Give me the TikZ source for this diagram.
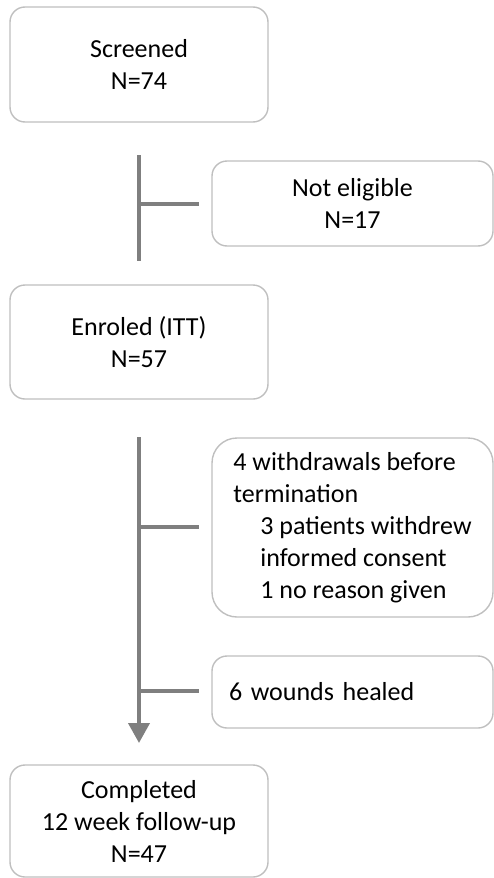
\documentclass[tikz,border=0pt]{standalone}
\usepackage{fontspec}
\setmainfont{Carlito}
\usetikzlibrary{arrows.meta}
\definecolor{trazo}{RGB}{127,127,127}
\definecolor{borde}{RGB}{191,191,191}
\begin{document}
\begin{tikzpicture}[x=1pt,y=-1pt,
  caja/.style={draw=borde,line width=1.4pt,rounded corners=15pt,inner sep=0pt,
    font=\fontsize{26}{32}\selectfont,align=center},
  lado/.style={caja,minimum width=281pt,align=left},
  linea/.style={trazo,line width=4pt}]
\useasboundingbox (0,0) rectangle (494,878);
% cajas del flujo principal
\node[caja,minimum width=258pt,minimum height=115pt] (screened) at (139,64.5) {Screened\\N=74};
\node[caja,minimum width=258pt,minimum height=114pt] (enroled) at (139,342) {Enroled (ITT)\\N=57};
\node[caja,minimum width=258pt,minimum height=112pt] (completed) at (139,821) {Completed\\12 week follow-up\\N=47};
% cajas laterales
\node[caja,minimum width=281pt,minimum height=85pt] (noeleg) at (352.5,203.5) {Not eligible\\N=17};
\node[lado,rounded corners=25pt,minimum height=179pt] (retiros) at (352.5,527.5)
  {4 withdrawals before\\termination\\\hspace*{27pt}3 patients withdrew\\\hspace*{27pt}informed consent\\\hspace*{27pt}1 no reason given};
\node[lado,text width=247pt,minimum height=72pt] (curados) at (352.5,692) {6 wounds healed};
% lineas
\coordinate (v1a) at (139,155);
\coordinate (v1b) at (139,261);
\coordinate (r1) at (139,204);
\coordinate (r1e) at (199,204);
\draw[linea] (v1a) -- (v1b);
\draw[linea] (r1) -- (r1e);
\coordinate (v2a) at (139,437);
\coordinate (v2b) at (139,743);
\coordinate (r2) at (139,527);
\coordinate (r2e) at (199,527);
\coordinate (r3) at (139,691);
\coordinate (r3e) at (199,691);
\draw[linea,-{Triangle[length=20pt,width=21pt]}] (v2a) -- (v2b);
\draw[linea] (r2) -- (r2e);
\draw[linea] (r3) -- (r3e);
\end{tikzpicture}
\end{document}
